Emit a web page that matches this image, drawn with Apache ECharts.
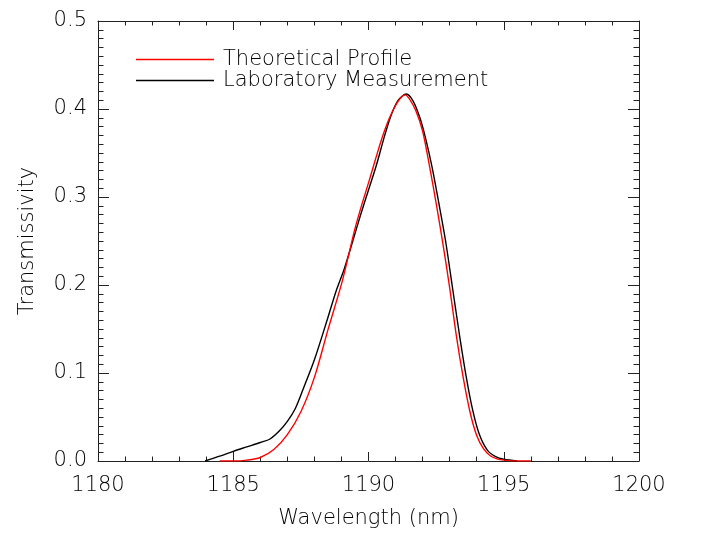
<!DOCTYPE html>
<html>
<head>
<meta charset="utf-8">
<script src="https://cdn.jsdelivr.net/npm/echarts@6/dist/echarts.min.js"></script>
<style>
  html, body { margin: 0; padding: 0; background: #fff; }
  #chart { width: 709px; height: 550px; }
</style>
</head>
<body>
<div id="chart"></div>
<script>
// wavelength (nm) and transmissivity
var theoryX = [1184.5, 1185.0, 1185.5, 1186.0, 1186.5, 1187.0, 1187.5, 1188.0, 1188.5, 1189.0,
    1189.25, 1189.5, 1189.75, 1190.0, 1190.25, 1190.5, 1190.75, 1191.0, 1191.2, 1191.35,
    1191.5, 1191.75, 1192.0, 1192.25, 1192.5, 1192.75, 1193.0, 1193.25, 1193.5, 1193.75,
    1194.0, 1194.25, 1194.5, 1194.75, 1195.0, 1195.5, 1196.0];
var theoryY = [0.0, 0.0, 0.001, 0.004, 0.013, 0.030, 0.056, 0.095, 0.149, 0.201,
    0.232, 0.264, 0.291, 0.316, 0.342, 0.367, 0.388, 0.404, 0.413, 0.416,
    0.412, 0.398, 0.375, 0.336, 0.293, 0.247, 0.197, 0.142, 0.095, 0.056,
    0.029, 0.014, 0.006, 0.0025, 0.001, 0.0, 0.0];

var labX = [1183.96, 1184.5, 1185.0, 1185.5, 1186.0, 1186.36, 1186.7, 1187.0, 1187.3, 1187.6,
    1188.0, 1188.5, 1188.8, 1189.1, 1189.4, 1189.7, 1190.0, 1190.3, 1190.6, 1190.85,
    1191.1, 1191.4, 1191.65, 1191.9, 1192.1, 1192.35, 1192.6, 1192.85, 1193.1, 1193.35,
    1193.6, 1193.85, 1194.1, 1194.4, 1194.7, 1195.0, 1195.5];
var labY = [0.0, 0.0055, 0.011, 0.016, 0.021, 0.025, 0.034, 0.045, 0.060, 0.083,
    0.115, 0.163, 0.193, 0.218, 0.248, 0.279, 0.308, 0.337, 0.370, 0.394,
    0.410, 0.417, 0.409, 0.390, 0.368, 0.334, 0.293, 0.250, 0.198, 0.146,
    0.098, 0.058, 0.030, 0.012, 0.005, 0.002, 0.0];

var seriesNames = ['Theoretical Profile', 'Laboratory Measurement'];
var seriesColors = ['#ff0000', '#000000'];
var xTitle = 'Wavelength (nm)';
var yTitle = 'Transmissivity';

function pairs(xs, ys) {
    var out = [];
    for (var i = 0; i < xs.length; i++) out.push([xs[i], ys[i]]);
    return out;
}

var font = 'DejaVu Sans';
var ink = '#000000';
var axisInk = '#222222';
// plain line for the legend key (corner specks keep the 78x20 box)
var lineIcon = 'path://M0,0L0.05,0L0,0.05Z M0,9.3L78,9.3L78,10.7L0,10.7Z M78,20L77.95,20L78,19.95Z';

var chart = echarts.init(document.getElementById('chart'), null, { renderer: 'canvas' });

function xAxisDef(pos, showLabel) {
    return {
        type: 'value', position: pos, min: 1180, max: 1200, interval: 5,
        name: showLabel ? xTitle : '', nameLocation: 'middle', nameGap: 47,
        nameTextStyle: { color: ink, fontSize: 21, fontFamily: font, fontWeight: 200 },
        axisLine: { show: true, onZero: false, lineStyle: { color: axisInk, width: 1 } },
        axisTick: { show: true, inside: true, length: 9, lineStyle: { color: axisInk } },
        minorTick: { show: true, splitNumber: 5, length: 4.5, lineStyle: { color: axisInk } },
        axisLabel: {
            show: showLabel, color: ink, fontSize: 21, fontFamily: font, fontWeight: 200, margin: 14,
            formatter: function (v) { return String(v); }
        },
        splitLine: { show: false }, minorSplitLine: { show: false }
    };
}

function yAxisDef(pos, showLabel) {
    return {
        type: 'value', position: pos, min: 0, max: 0.5, interval: 0.1,
        name: showLabel ? yTitle : '', nameLocation: 'middle', nameGap: 60,
        nameTextStyle: { color: ink, fontSize: 21, fontFamily: font, fontWeight: 200 },
        axisLine: { show: true, onZero: false, lineStyle: { color: axisInk, width: 1 } },
        axisTick: { show: true, inside: true, length: 11, lineStyle: { color: axisInk } },
        minorTick: { show: true, splitNumber: 10, length: 5.5, lineStyle: { color: axisInk } },
        axisLabel: {
            show: showLabel, color: ink, fontSize: 21, fontFamily: font, fontWeight: 200, margin: 11,
            formatter: function (v) { return v.toFixed(1); }
        },
        splitLine: { show: false }, minorSplitLine: { show: false }
    };
}

var option = {
    animation: false,
    backgroundColor: '#ffffff',
    grid: { left: 98, right: 70, top: 21, bottom: 89 },
    legend: {
        orient: 'vertical', left: 131, top: 44,
        itemWidth: 78, itemHeight: 20, itemGap: 0,
        icon: lineIcon,
        textStyle: { color: ink, fontSize: 21, fontFamily: font, fontWeight: 200, padding: [0, 0, 0, 4] },
        data: seriesNames
    },
    xAxis: [xAxisDef('bottom', true), xAxisDef('top', false)],
    yAxis: [yAxisDef('left', true), yAxisDef('right', false)],
    series: [
        {
            name: seriesNames[0], type: 'line', xAxisIndex: 0, yAxisIndex: 0,
            data: pairs(theoryX, theoryY), smooth: 0.3, symbol: 'none',
            lineStyle: { color: seriesColors[0], width: 1.4 }, itemStyle: { color: seriesColors[0] }, z: 3
        },
        {
            name: seriesNames[1], type: 'line', xAxisIndex: 0, yAxisIndex: 0,
            data: pairs(labX, labY), smooth: 0.3, symbol: 'none',
            lineStyle: { color: seriesColors[1], width: 1.4 }, itemStyle: { color: seriesColors[1] }, z: 2
        }
    ]
};

chart.setOption(option);
window.addEventListener('resize', function () { chart.resize(); });
</script>
</body>
</html>
